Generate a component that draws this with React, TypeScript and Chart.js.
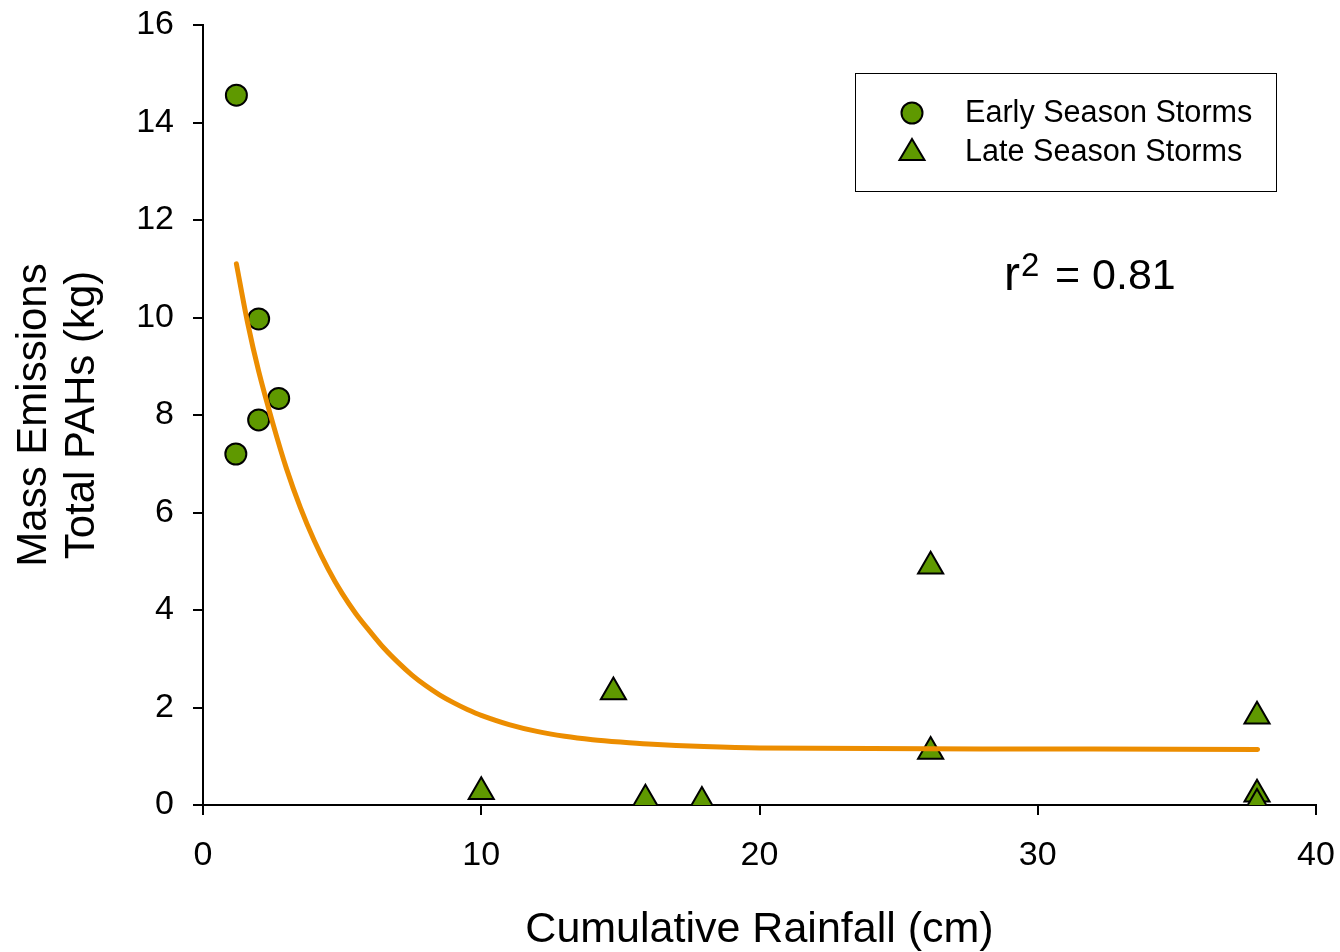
import React, { useEffect, useRef } from "react";
import Chart from "chart.js/auto";

// ---- data ----
const earlyRainfall = [1.2, 2.0, 2.0, 2.72, 1.18];
const earlyMass = [14.56, 9.97, 7.9, 8.34, 7.2];

const lateRainfall = [10.0, 14.75, 15.9, 17.93, 26.15, 26.15, 37.88, 37.88, 37.88];
const lateMass = [0.27, 2.32, 0.12, 0.07, 4.9, 1.1, 1.82, 0.22, 0.03];

// fitted curve
const fitRainfall = [1.2, 1.6, 2.0, 2.5, 3.0, 3.5, 4.0, 4.5, 5.0, 5.5, 6.0, 6.5, 7.0, 7.5, 8.0, 8.5, 9.0, 9.5, 10.0, 11.0, 12.0, 13.0, 14.0, 15.0, 16.0, 18.0, 20.0, 24.0, 28.0, 32.0, 37.9];
const fitMass = [11.1, 9.9, 8.9, 7.85, 6.9, 6.1, 5.42, 4.84, 4.34, 3.92, 3.56, 3.22, 2.93, 2.67, 2.45, 2.26, 2.1, 1.96, 1.84, 1.65, 1.51, 1.41, 1.34, 1.29, 1.25, 1.2, 1.17, 1.16, 1.15, 1.15, 1.14];

const legendLabels = ["Early Season Storms", "Late Season Storms"];
const xTitle = "Cumulative Rainfall (cm)";
const yTitle = ["Mass Emissions", "Total PAHs (kg)"];
const rSquaredText = "0.81";

const GREEN = "#5f9900";
const ORANGE = "#ec8d00";
const FONT = '"Liberation Sans", Arial, sans-serif';

const annotationPlugin = {
  id: "customLegendAndR2",
  afterDatasetsDraw(chart: any) {
    const ctx = chart.ctx as CanvasRenderingContext2D;
    ctx.save();
    // legend box
    ctx.strokeStyle = "#000";
    ctx.lineWidth = 1;
    ctx.strokeRect(855.5, 73.5, 421, 118);
    // circle marker
    ctx.beginPath();
    ctx.arc(912, 113, 10.5, 0, Math.PI * 2);
    ctx.fillStyle = GREEN;
    ctx.fill();
    ctx.lineWidth = 2;
    ctx.strokeStyle = "#000";
    ctx.stroke();
    // triangle marker
    ctx.beginPath();
    ctx.moveTo(912, 139);
    ctx.lineTo(924.5, 160);
    ctx.lineTo(899.5, 160);
    ctx.closePath();
    ctx.fillStyle = GREEN;
    ctx.fill();
    ctx.stroke();
    // legend text
    ctx.fillStyle = "#000";
    ctx.font = `30.6px ${FONT}`;
    ctx.textBaseline = "middle";
    ctx.textAlign = "left";
    ctx.fillText(legendLabels[0], 965, 114);
    ctx.fillText(legendLabels[1], 965, 153);
    // r^2 text
    ctx.textBaseline = "alphabetic";
    ctx.font = `48px ${FONT}`;
    ctx.fillText("r", 1004, 290);
    ctx.font = `33px ${FONT}`;
    ctx.fillText("2", 1021, 276);
    ctx.font = `43px ${FONT}`;
    ctx.fillText("= " + rSquaredText, 1055, 289);
    ctx.restore();
  },
};

export default function App() {
  const canvasRef = useRef<HTMLCanvasElement | null>(null);

  useEffect(() => {
    if (!canvasRef.current) return;
    const tickFont = { size: 34, family: FONT };
    const chart = new Chart(canvasRef.current, {
      type: "scatter",
      data: {
        datasets: [
          {
            label: "fit",
            data: fitRainfall.map((x, i) => ({ x, y: fitMass[i] })),
            showLine: true,
            borderColor: ORANGE,
            borderWidth: 5,
            borderCapStyle: "round",
            pointRadius: 0,
            tension: 0.3,
            order: 0,
          } as any,
          {
            label: legendLabels[0],
            data: earlyRainfall.map((x, i) => ({ x, y: earlyMass[i] })),
            pointStyle: "circle",
            pointRadius: 10.5,
            pointBorderWidth: 2,
            pointBorderColor: "#000",
            pointBackgroundColor: GREEN,
            showLine: false,
            order: 1,
          },
          {
            label: legendLabels[1],
            data: lateRainfall.map((x, i) => ({ x, y: lateMass[i] })),
            pointStyle: "triangle",
            pointRadius: 14.5,
            pointBorderWidth: 2,
            pointBorderColor: "#000",
            pointBackgroundColor: GREEN,
            showLine: false,
            order: 1,
          },
        ],
      },
      options: {
        responsive: false,
        animation: false,
        events: [],
        layout: { padding: { left: 0, top: 25, right: 24, bottom: 0 } },
        plugins: {
          legend: { display: false },
          tooltip: { enabled: false },
        },
        scales: {
          x: {
            type: "linear",
            min: 0,
            max: 40,
            ticks: { stepSize: 10, font: tickFont, color: "#000", padding: 20 },
            grid: { drawOnChartArea: false, drawTicks: true, tickLength: 10, color: "#000", lineWidth: 2 },
            border: { display: true, color: "#000", width: 2 },
            title: {
              display: true,
              text: xTitle,
              color: "#000",
              font: { size: 43, family: FONT, lineHeight: 1.0 },
              padding: { top: 0, bottom: 0 },
            },
            afterFit: (s: any) => {
              s.height = 147;
              s.paddingLeft = 0;
              s.paddingRight = 0;
            },
          },
          y: {
            type: "linear",
            min: 0,
            max: 16,
            ticks: { stepSize: 2, font: tickFont, color: "#000", padding: 19 },
            grid: { drawOnChartArea: false, drawTicks: true, tickLength: 10, color: "#000", lineWidth: 2 },
            border: { display: true, color: "#000", width: 2 },
            title: {
              display: true,
              text: yTitle,
              color: "#000",
              font: { size: 42, family: FONT, lineHeight: 1.143 },
              padding: { top: 10, bottom: 0 },
            },
            afterFit: (s: any) => {
              s.width = 203;
              s.paddingTop = 0;
              s.paddingBottom = 0;
            },
          },
        },
      } as any,
      plugins: [annotationPlugin],
    });
    return () => chart.destroy();
  }, []);

  return (
    <div style={{ position: "fixed", left: 0, top: 0, width: 1340, height: 952, background: "#fff" }}>
      <canvas ref={canvasRef} width={1340} height={952} />
    </div>
  );
}
